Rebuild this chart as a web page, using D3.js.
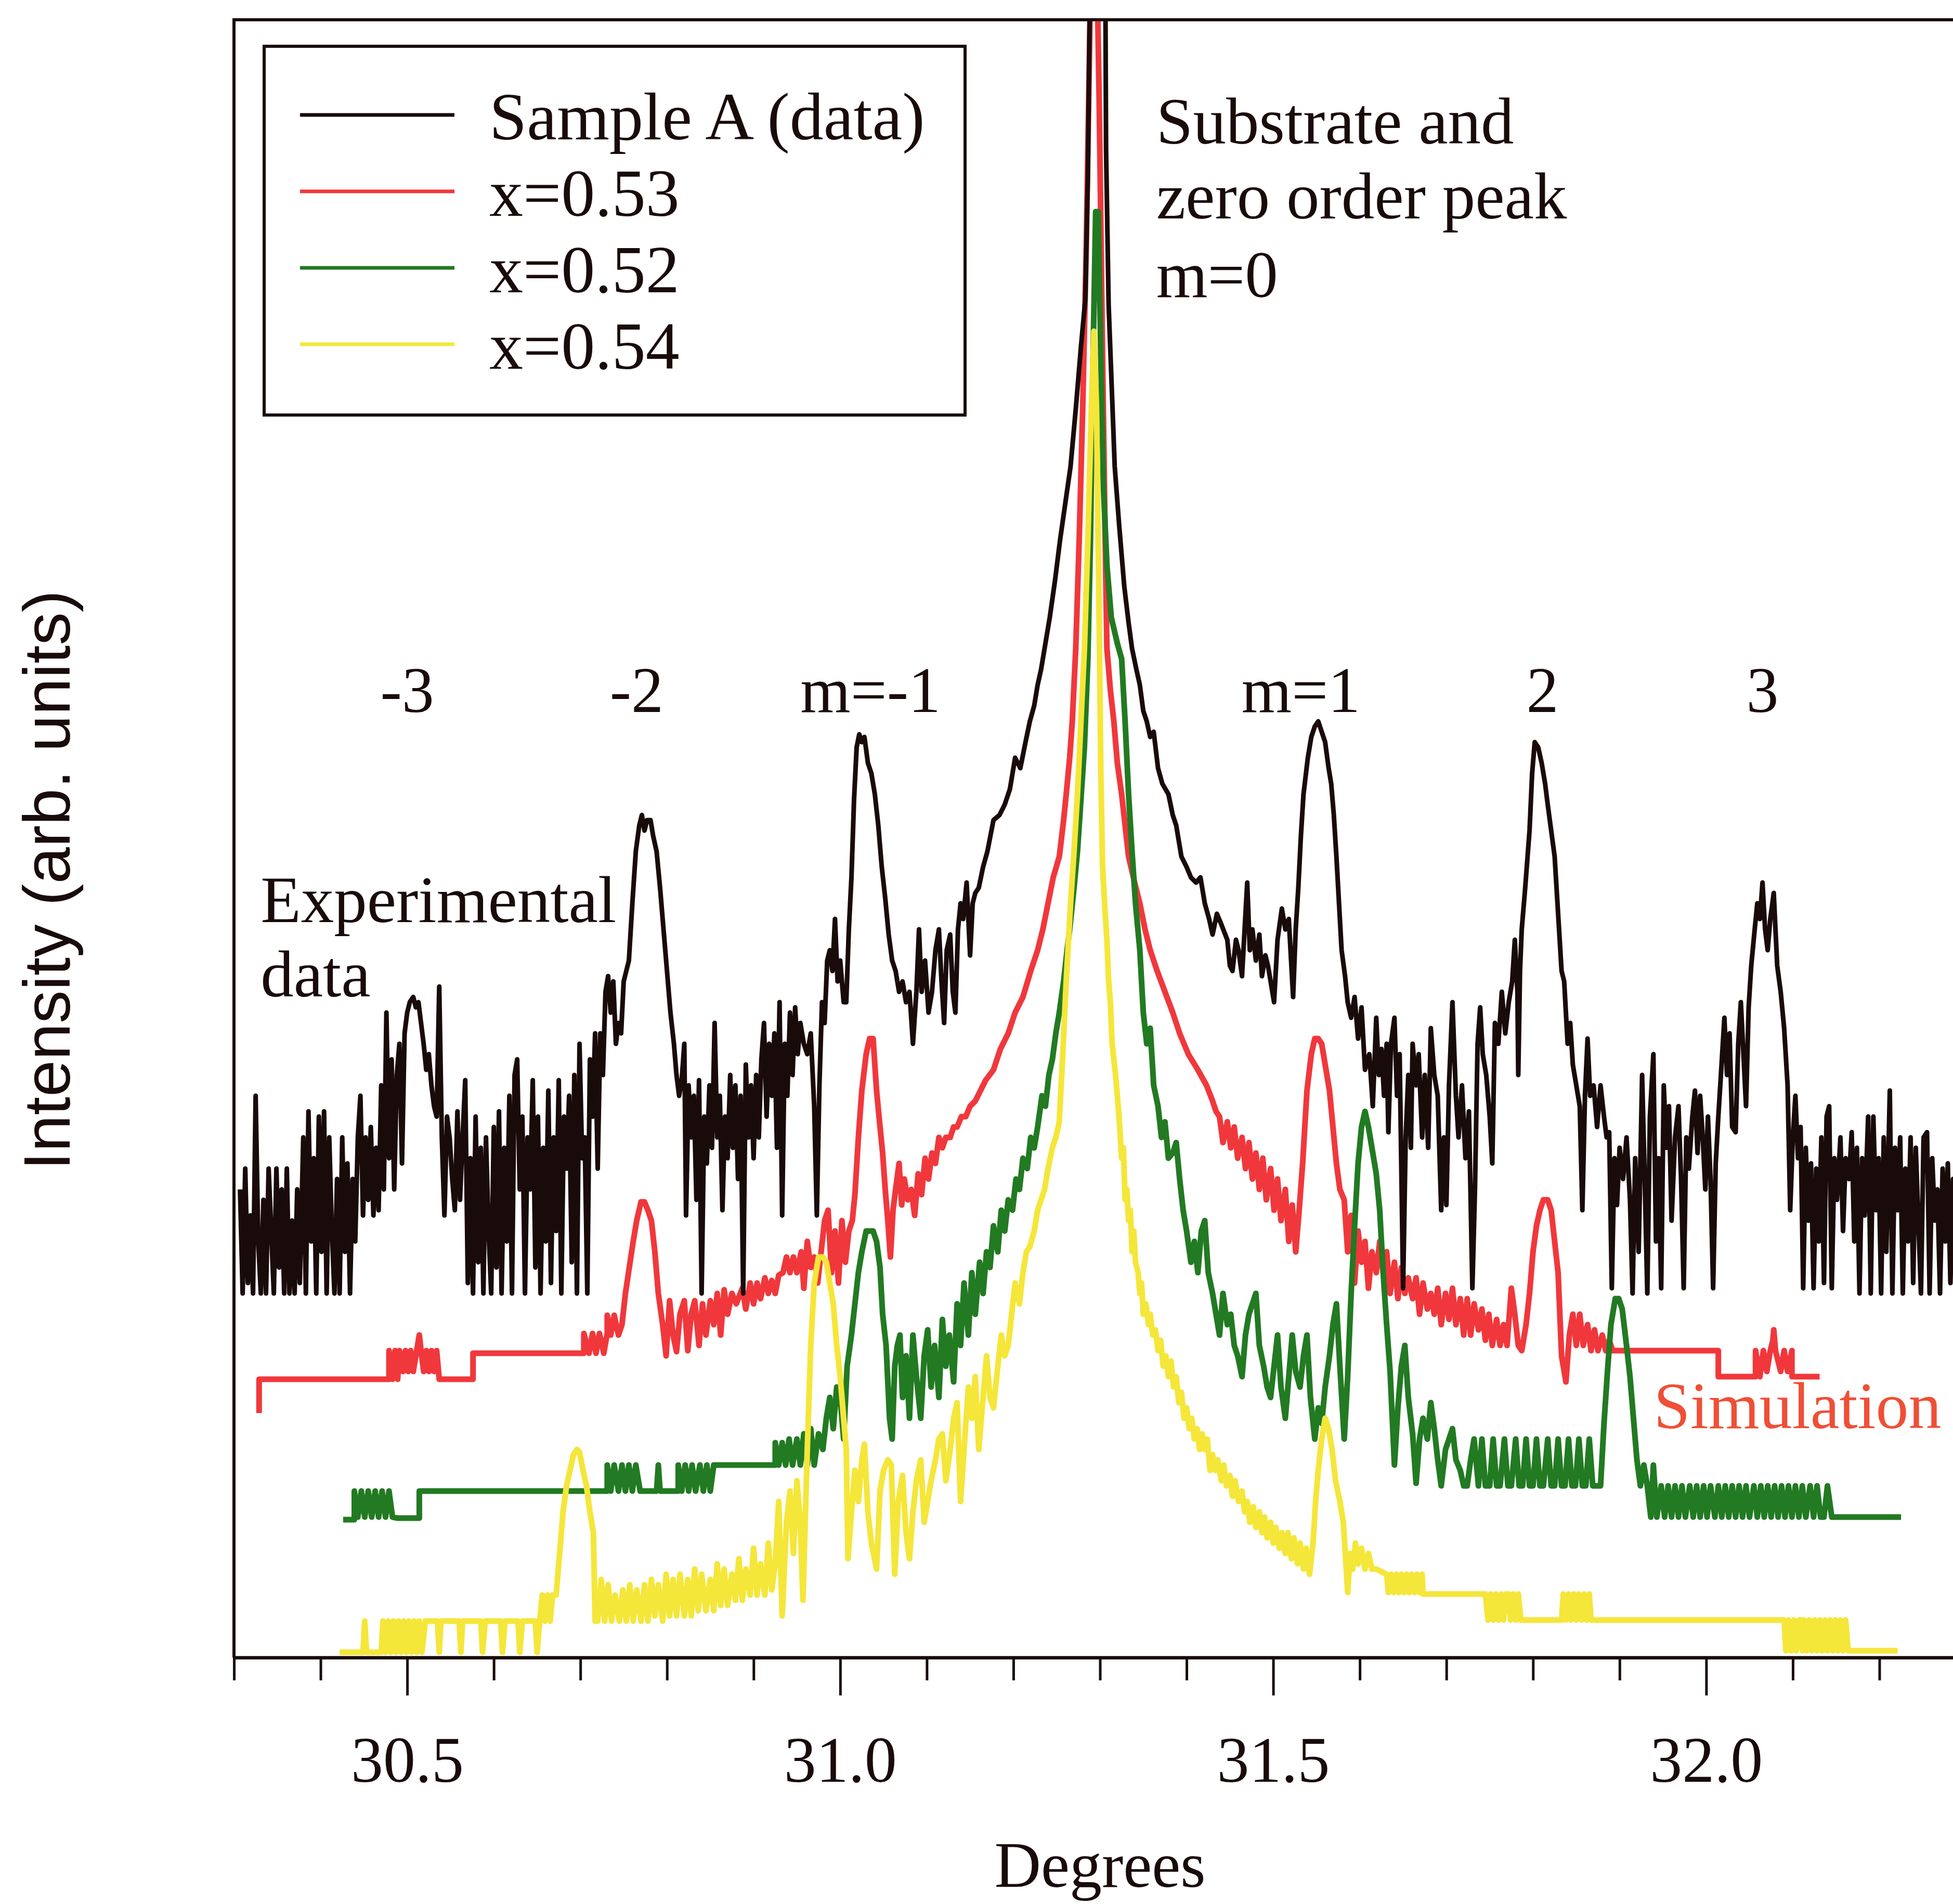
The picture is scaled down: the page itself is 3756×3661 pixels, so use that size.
<!DOCTYPE html>
<html><head><meta charset="utf-8">
<script src="https://cdn.jsdelivr.net/npm/d3@7"></script>
<style>html,body{margin:0;padding:0;background:#fff;} svg{display:block;}</style>
</head><body>
<script>
// ---------------- DATA ----------------
const sampleA = [[30.307,90],[30.310,70],[30.313,94],[30.316,72],[30.319,85],[30.322,70],[30.325,108],[30.328,80],[30.331,70],[30.334,88],[30.337,70],[30.340,94],[30.343,82],[30.346,70],[30.349,94],[30.352,75],[30.355,90],[30.358,70],[30.361,94],[30.364,70],[30.367,84],[30.370,70],[30.373,90],[30.376,72],[30.380,100],[30.383,70],[30.386,105],[30.389,80],[30.392,96],[30.395,70],[30.398,104],[30.401,78],[30.404,105],[30.407,70],[30.410,100],[30.413,82],[30.416,70],[30.419,92],[30.422,70],[30.425,100],[30.428,78],[30.431,95],[30.434,70],[30.437,92],[30.440,80],[30.443,100],[30.446,108],[30.449,85],[30.452,100],[30.455,88],[30.458,102],[30.461,85],[30.464,98],[30.467,86],[30.470,110],[30.473,90],[30.476,124],[30.479,96],[30.482,115],[30.485,90],[30.488,112],[30.491,118],[30.494,95],[30.497,120],[30.500,124],[30.503,126],[30.507,127],[30.510,125],[30.513,126],[30.516,122],[30.519,118],[30.522,113],[30.525,116],[30.528,110],[30.531,106],[30.534,104],[30.537,129],[30.540,100],[30.543,85],[30.546,104],[30.549,100],[30.552,92],[30.555,86],[30.558,105],[30.561,88],[30.564,100],[30.567,111],[30.570,72],[30.573,96],[30.576,70],[30.579,104],[30.582,76],[30.585,98],[30.588,70],[30.591,100],[30.594,82],[30.597,70],[30.600,102],[30.603,75],[30.606,105],[30.609,70],[30.612,98],[30.615,80],[30.618,108],[30.621,70],[30.624,112],[30.627,115],[30.630,90],[30.633,104],[30.636,70],[30.639,100],[30.642,90],[30.645,111],[30.648,75],[30.651,104],[30.654,70],[30.657,98],[30.660,80],[30.663,109],[30.666,72],[30.669,100],[30.672,82],[30.675,111],[30.678,70],[30.681,104],[30.684,94],[30.687,108],[30.690,76],[30.693,112],[30.696,70],[30.699,118],[30.702,96],[30.705,100],[30.708,70],[30.711,115],[30.714,104],[30.717,120],[30.720,94],[30.723,120],[30.726,112],[30.729,128],[30.732,131],[30.735,124],[30.738,130],[30.741,118],[30.744,122],[30.747,120],[30.750,130],[30.753,132],[30.756,134],[30.760,145],[30.764,155],[30.768,160],[30.771,162],[30.774,159],[30.777,161],[30.781,161],[30.784,158],[30.788,155],[30.792,148],[30.796,140],[30.800,132],[30.804,124],[30.808,118],[30.811,112],[30.814,108],[30.817,111],[30.820,118],[30.822,85],[30.825,110],[30.828,100],[30.831,108],[30.834,88],[30.837,111],[30.840,70],[30.843,104],[30.846,95],[30.849,110],[30.852,98],[30.855,122],[30.858,100],[30.861,108],[30.864,86],[30.867,104],[30.870,96],[30.873,112],[30.876,98],[30.879,110],[30.882,92],[30.885,108],[30.888,70],[30.891,114],[30.894,100],[30.897,110],[30.900,96],[30.903,112],[30.906,100],[30.909,115],[30.912,122],[30.915,104],[30.918,118],[30.921,108],[30.924,120],[30.927,98],[30.930,126],[30.933,85],[30.936,118],[30.939,108],[30.942,124],[30.945,112],[30.948,125],[30.951,116],[30.954,122],[30.958,118],[30.962,116],[30.966,120],[30.970,106],[30.973,85],[30.976,110],[30.979,126],[30.982,122],[30.985,134],[30.988,136],[30.991,132],[30.994,142],[30.997,130],[31.000,134],[31.004,126],[31.007,126],[31.010,140],[31.013,150],[31.016,165],[31.019,175],[31.022,177.5],[31.025,176],[31.028,177],[31.032,172],[31.036,170],[31.040,166],[31.044,160],[31.048,152],[31.052,146],[31.056,139],[31.060,134],[31.064,132],[31.068,128],[31.072,130],[31.076,126],[31.080,128],[31.084,118],[31.088,128],[31.091,140],[31.094,128],[31.098,134],[31.102,124],[31.106,128],[31.110,136],[31.114,140],[31.117,130],[31.120,122],[31.123,136],[31.127,139],[31.130,128],[31.133,124],[31.136,140],[31.139,145],[31.142,142],[31.146,149],[31.150,135],[31.153,145],[31.156,147],[31.160,148],[31.165,152],[31.170,155],[31.177,161],[31.184,162],[31.190,164],[31.196,167],[31.202,173],[31.208,171],[31.214,176],[31.219,180],[31.224,183],[31.228,187],[31.232,190],[31.236,194],[31.242,200],[31.248,207],[31.254,215],[31.260,222],[31.266,229],[31.272,240],[31.278,252],[31.283,261],[31.286,285],[31.289,330],[31.298,345],[31.306,330],[31.307,290],[31.310,260],[31.317,229],[31.322,218],[31.328,206],[31.333,199],[31.337,194],[31.342,190],[31.346,187],[31.350,182],[31.354,180],[31.358,177],[31.362,178],[31.367,171],[31.372,168],[31.379,166],[31.384,162],[31.388,160],[31.394,154],[31.400,152],[31.405,150],[31.411,149],[31.416,150],[31.421,145],[31.426,142],[31.430,139],[31.435,143],[31.440,141],[31.447,138],[31.450,133],[31.453,132],[31.457,138],[31.460,136],[31.464,131],[31.467,140],[31.470,149],[31.473,136],[31.476,140],[31.480,134],[31.484,139],[31.487,131],[31.491,135],[31.494,133],[31.497,130],[31.501,126],[31.505,138],[31.510,144],[31.514,140],[31.518,142],[31.523,127],[31.526,140],[31.529,148],[31.532,158],[31.535,166],[31.540,173],[31.544,177],[31.548,179],[31.552,180],[31.556,178],[31.560,176],[31.564,171],[31.567,168],[31.570,162],[31.573,154],[31.576,145],[31.579,136],[31.583,131],[31.586,126],[31.590,123],[31.594,127],[31.598,119],[31.602,125],[31.606,113],[31.611,116],[31.615,106],[31.619,123],[31.622,112],[31.625,117],[31.628,108],[31.631,118],[31.633,101],[31.636,118],[31.640,123],[31.643,108],[31.646,116],[31.650,71],[31.653,100],[31.656,112],[31.659,98],[31.661,118],[31.665,110],[31.668,116],[31.672,100],[31.675,112],[31.679,98],[31.682,121],[31.686,112],[31.690,108],[31.694,86],[31.697,100],[31.700,87],[31.703,110],[31.707,126],[31.711,108],[31.714,100],[31.718,110],[31.722,96],[31.726,105],[31.730,71],[31.733,90],[31.736,118],[31.739,125],[31.742,116],[31.746,112],[31.750,104],[31.753,95],[31.756,122],[31.760,118],[31.764,128],[31.768,120],[31.772,126],[31.776,130],[31.779,138],[31.782,128],[31.783,112],[31.785,132],[31.787,140],[31.791,148],[31.796,159],[31.799,170],[31.802,176],[31.806,175],[31.810,172],[31.814,168],[31.817,164],[31.821,159],[31.825,154],[31.829,143],[31.833,132],[31.836,130],[31.840,118],[31.843,122],[31.846,114],[31.850,110],[31.854,106],[31.857,86],[31.860,108],[31.863,119],[31.866,108],[31.870,110],[31.874,102],[31.878,110],[31.882,104],[31.885,100],[31.888,101],[31.891,71],[31.894,96],[31.897,87],[31.900,98],[31.904,92],[31.908,100],[31.912,88],[31.915,70],[31.918,96],[31.922,78],[31.926,112],[31.929,92],[31.932,70],[31.935,104],[31.939,116],[31.942,80],[31.945,96],[31.948,71],[31.951,110],[31.954,98],[31.957,106],[31.960,84],[31.964,100],[31.968,106],[31.971,92],[31.974,71],[31.977,100],[31.980,94],[31.984,104],[31.987,109],[31.990,97],[31.993,108],[31.996,100],[31.999,90],[32.002,104],[32.005,92],[32.008,71],[32.011,95],[32.014,104],[32.017,112],[32.021,123],[32.024,112],[32.027,120],[32.030,102],[32.034,101],[32.037,118],[32.040,126],[32.043,116],[32.046,106],[32.049,125],[32.052,133],[32.056,140],[32.059,145],[32.062,142],[32.065,149],[32.068,140],[32.071,136],[32.074,142],[32.078,147],[32.080,140],[32.082,133],[32.086,128],[32.090,121],[32.094,110],[32.097,86],[32.100,100],[32.103,108],[32.106,96],[32.109,102],[32.112,71],[32.115,98],[32.118,84],[32.121,95],[32.124,71],[32.127,94],[32.130,80],[32.133,100],[32.136,72],[32.139,104],[32.142,106],[32.145,71],[32.148,96],[32.151,88],[32.155,100],[32.158,82],[32.161,96],[32.165,92],[32.168,101],[32.171,80],[32.174,98],[32.177,70],[32.180,96],[32.183,85],[32.187,104],[32.190,70],[32.193,104],[32.196,86],[32.199,96],[32.202,70],[32.205,100],[32.208,78],[32.212,109],[32.215,70],[32.218,98],[32.221,86],[32.224,100],[32.227,70],[32.230,94],[32.233,80],[32.236,100],[32.239,72],[32.242,98],[32.245,84],[32.248,70],[32.251,100],[32.255,101],[32.258,70],[32.261,96],[32.264,84],[32.267,90],[32.270,70],[32.273,94],[32.276,80],[32.279,95],[32.282,72],[32.285,92],[32.290,70],[32.295,90]];

const simX053 = [[30.329,47],[30.329,53.5],[30.479,53.5],[30.479,59],[30.483,53.5],[30.486,59],[30.489,53.5],[30.491,59],[30.495,55],[30.498,59],[30.501,55],[30.504,59],[30.507,55],[30.511,59],[30.514,62],[30.516,59],[30.519,55],[30.522,59],[30.525,55],[30.528,59],[30.531,55],[30.534,59],[30.537,53.5],[30.576,53.5],[30.576,58.5],[30.704,58.5],[30.704,62.3],[30.710,58.5],[30.714,62.3],[30.718,58.5],[30.722,62.3],[30.727,58.5],[30.731,62.3],[30.731,65.8],[30.735,62],[30.739,65.8],[30.744,62],[30.748,64],[30.752,70],[30.757,75.6],[30.761,80],[30.765,84],[30.770,87.6],[30.774,87.6],[30.778,86],[30.782,84],[30.786,78],[30.790,70],[30.795,64],[30.799,58],[30.803,68.6],[30.807,62],[30.811,58.8],[30.815,66],[30.820,68.6],[30.824,59],[30.828,66],[30.832,68.6],[30.837,60],[30.841,68],[30.845,62],[30.850,68.6],[30.854,64],[30.858,70],[30.862,62],[30.866,70.7],[30.870,66],[30.875,70],[30.880,68],[30.887,71],[30.891,67],[30.896,72],[30.900,68],[30.904,72],[30.908,69],[30.913,73],[30.917,70],[30.921,72.5],[30.925,70],[30.929,73.5],[30.934,74],[30.938,77],[30.942,74],[30.946,77],[30.950,74],[30.955,78],[30.958,71],[30.962,80],[30.966,75],[30.970,77],[30.974,72],[30.978,78],[30.982,84],[30.986,86],[30.990,74],[30.994,82],[30.998,72],[31.002,84],[31.006,76],[31.010,82],[31.014,84],[31.017,89],[31.021,100],[31.025,109],[31.030,116],[31.034,119],[31.038,119],[31.042,109],[31.046,102],[31.049,97],[31.052,90],[31.055,84],[31.058,77],[31.061,86],[31.064,90],[31.068,95],[31.071,87],[31.074,92],[31.078,88],[31.082,90],[31.086,85],[31.090,93],[31.094,89],[31.098,96],[31.102,92],[31.106,97],[31.110,95],[31.114,100],[31.118,98],[31.122,100],[31.127,100],[31.131,102],[31.135,102],[31.140,104],[31.145,104],[31.150,106],[31.156,107],[31.162,109],[31.168,111],[31.177,113],[31.185,117],[31.194,120],[31.202,124],[31.211,127],[31.220,132],[31.228,136],[31.234,140],[31.240,145],[31.246,150],[31.253,154],[31.258,161],[31.261,166],[31.265,173],[31.268,180],[31.272,194],[31.276,215],[31.280,240],[31.284,270],[31.287,300],[31.290,330],[31.293,350],[31.296,330],[31.299,300],[31.303,250],[31.306,215],[31.308,194],[31.312,186],[31.316,180],[31.320,172],[31.325,166],[31.329,160],[31.333,154],[31.340,149],[31.346,145],[31.352,140],[31.358,136],[31.366,132],[31.375,128],[31.384,124],[31.392,120],[31.402,116],[31.413,113],[31.423,110],[31.430,107],[31.434,105],[31.438,104],[31.442,99],[31.447,103],[31.451,98],[31.455,102],[31.459,96],[31.464,100],[31.468,94],[31.472,99],[31.476,92],[31.480,97],[31.484,90],[31.488,96],[31.492,88],[31.497,94],[31.501,86],[31.505,92],[31.509,84],[31.514,90],[31.518,80],[31.522,87],[31.526,78],[31.530,86],[31.534,95],[31.539,109],[31.544,116],[31.548,119],[31.552,119],[31.556,118],[31.560,114],[31.565,109],[31.569,102],[31.573,95],[31.577,90],[31.582,88],[31.586,78],[31.590,85],[31.594,72],[31.598,82],[31.602,76],[31.606,80],[31.610,71],[31.614,78],[31.619,74],[31.623,80],[31.627,74],[31.631,78],[31.635,70],[31.640,76],[31.644,69],[31.648,75],[31.652,70],[31.656,73],[31.661,69],[31.665,73],[31.669,66],[31.673,72],[31.678,67],[31.682,70],[31.686,66],[31.690,71],[31.694,64],[31.699,70],[31.703,65],[31.707,71],[31.711,64],[31.716,69],[31.720,62],[31.724,69],[31.728,62],[31.732,68],[31.737,63],[31.741,67],[31.745,61],[31.749,66],[31.753,60],[31.758,65],[31.762,60],[31.766,64],[31.770,60],[31.775,71],[31.779,66],[31.783,60],[31.787,59],[31.792,64],[31.796,70],[31.800,78],[31.804,83],[31.808,86],[31.812,88],[31.817,88],[31.821,86],[31.825,80],[31.829,74],[31.833,58],[31.838,53],[31.842,62],[31.846,66],[31.850,60],[31.854,66],[31.858,60],[31.863,64],[31.867,59],[31.871,63],[31.875,59],[31.880,62],[31.884,59],[31.888,61],[31.892,59],[32.014,59],[32.014,54],[32.057,54],[32.057,59],[32.062,54],[32.066,59],[32.070,55],[32.074,59],[32.077,61],[32.078,63],[32.080,59],[32.086,55],[32.090,59],[32.094,55],[32.099,59],[32.099,54],[32.131,54]];

const simX052 = [[30.426,26.5],[30.439,26.5],[30.439,32],[30.443,27],[30.447,32],[30.451,27],[30.455,32],[30.459,27],[30.463,32],[30.467,27],[30.471,32],[30.475,27],[30.479,32],[30.483,27],[30.489,26.8],[30.514,26.8],[30.514,32],[30.731,32],[30.731,37],[30.735,32],[30.739,37],[30.744,32],[30.748,37],[30.752,32],[30.756,37],[30.760,32],[30.764,37],[30.769,32],[30.788,32],[30.790,37],[30.792,32],[30.813,32],[30.813,37],[30.817,32],[30.821,37],[30.825,32],[30.829,37],[30.833,32],[30.838,37],[30.842,32],[30.846,37],[30.850,32],[30.854,37],[30.858,37],[30.925,37],[30.925,41.3],[30.929,37],[30.933,41.3],[30.937,37],[30.941,42],[30.945,37],[30.950,42],[30.954,37],[30.958,43],[30.962,37],[30.966,44],[30.970,37],[30.975,43],[30.980,40],[30.984,46],[30.988,50],[30.992,44],[30.996,52],[31.000,50],[31.004,42],[31.008,56],[31.013,62],[31.017,68],[31.021,74],[31.025,78],[31.030,82],[31.034,82],[31.038,82],[31.042,80],[31.046,75],[31.049,66],[31.053,60],[31.057,46],[31.060,42],[31.063,56],[31.066,60],[31.069,62],[31.072,50],[31.076,58],[31.080,46],[31.084,62],[31.088,54],[31.093,46],[31.097,58],[31.101,63],[31.105,52],[31.109,60],[31.114,50],[31.118,65],[31.122,56],[31.126,62],[31.131,53],[31.135,68],[31.139,60],[31.143,72],[31.148,62],[31.152,74],[31.156,66],[31.161,76],[31.165,70],[31.169,78],[31.173,75],[31.177,83],[31.182,78],[31.186,86],[31.190,82],[31.194,88],[31.199,86],[31.203,92],[31.207,90],[31.211,96],[31.216,94],[31.220,100],[31.224,98],[31.228,102],[31.233,108],[31.237,106],[31.241,112],[31.245,115],[31.249,120],[31.253,124],[31.258,130],[31.262,136],[31.265,140],[31.270,148],[31.274,155],[31.278,165],[31.282,175],[31.286,192],[31.289,215],[31.292,250],[31.295,278],[31.298,278],[31.301,250],[31.304,225],[31.308,210],[31.313,200],[31.320,195],[31.325,192],[31.329,180],[31.333,166],[31.337,155],[31.341,145],[31.346,136],[31.350,124],[31.354,118],[31.358,121],[31.362,110],[31.367,106],[31.371,100],[31.375,103],[31.379,96],[31.384,97],[31.388,99],[31.392,92],[31.396,86],[31.400,82],[31.405,76],[31.409,80],[31.413,74],[31.417,82],[31.421,84],[31.425,74],[31.430,70],[31.434,66],[31.438,62],[31.442,70],[31.447,64],[31.451,66],[31.455,60],[31.459,58],[31.464,54],[31.468,62],[31.472,66],[31.476,68],[31.480,70],[31.484,60],[31.489,56],[31.493,52],[31.497,50],[31.501,56],[31.505,62],[31.509,52],[31.514,46],[31.518,54],[31.522,62],[31.526,55],[31.531,52],[31.535,58],[31.539,62],[31.543,50],[31.548,42],[31.552,48],[31.556,45],[31.560,52],[31.565,58],[31.569,64],[31.573,68],[31.577,56],[31.582,42],[31.586,54],[31.590,70],[31.594,83],[31.598,95],[31.602,102],[31.606,105],[31.610,102],[31.615,97],[31.619,93],[31.623,86],[31.627,74],[31.631,64],[31.635,55],[31.640,37],[31.644,48],[31.648,56],[31.652,60],[31.656,50],[31.661,43],[31.665,33.5],[31.669,42],[31.673,46],[31.678,42],[31.682,49],[31.686,44],[31.690,38],[31.694,33],[31.699,40],[31.703,42],[31.707,44],[31.711,38],[31.716,36],[31.720,33],[31.724,33],[31.728,38],[31.732,42],[31.737,33],[31.741,42],[31.745,33],[31.750,33],[31.754,42],[31.758,33],[31.762,33],[31.767,42],[31.771,33],[31.775,33],[31.780,42],[31.784,33],[31.788,33],[31.792,42],[31.796,33],[31.800,33],[31.804,42],[31.808,33],[31.812,33],[31.817,42],[31.821,33],[31.825,33],[31.829,42],[31.833,33],[31.837,33],[31.841,42],[31.845,33],[31.849,33],[31.853,42],[31.857,33],[31.861,33],[31.865,42],[31.869,33],[31.878,33],[31.882,45],[31.886,55],[31.890,64],[31.895,69],[31.899,69],[31.903,67],[31.908,60],[31.912,54],[31.916,46],[31.920,38],[31.924,33],[31.928,37],[31.932,33],[31.936,27],[31.939,37],[31.943,27],[31.948,33],[31.952,27],[31.956,33],[31.960,27],[31.964,33],[31.968,27],[31.972,33],[31.976,27],[31.981,33],[31.985,27],[31.989,33],[31.993,27],[31.997,33],[32.001,27],[32.005,33],[32.010,27],[32.014,33],[32.018,27],[32.022,33],[32.026,27],[32.030,33],[32.034,27],[32.038,33],[32.042,27],[32.046,33],[32.050,27],[32.055,33],[32.059,27],[32.063,33],[32.067,27],[32.071,33],[32.075,27],[32.079,33],[32.083,27],[32.087,33],[32.091,27],[32.095,33],[32.099,27],[32.103,33],[32.107,27],[32.111,33],[32.115,27],[32.120,33],[32.124,27],[32.128,33],[32.132,27],[32.136,27],[32.140,33],[32.145,27],[32.225,27]];

const simX054 = [[30.422,1],[30.449,1],[30.451,7],[30.453,1],[30.470,1],[30.472,7],[30.475,1],[30.478,7],[30.481,1],[30.484,7],[30.487,1],[30.490,7],[30.493,1],[30.496,7],[30.499,1],[30.502,7],[30.505,1],[30.508,7],[30.511,1],[30.514,7],[30.517,1],[30.521,7],[30.535,7],[30.537,1],[30.539,7],[30.560,7],[30.562,1],[30.564,7],[30.585,7],[30.587,1],[30.590,7],[30.608,7],[30.610,1],[30.613,7],[30.628,7],[30.630,1],[30.633,7],[30.648,7],[30.650,1],[30.653,7],[30.656,12],[30.659,7],[30.662,12],[30.665,7],[30.668,12],[30.672,12],[30.676,20],[30.680,28],[30.684,33],[30.688,36],[30.692,39],[30.696,40],[30.699,39.5],[30.703,36],[30.707,33],[30.711,28],[30.715,24],[30.717,7],[30.720,7],[30.724,15],[30.728,7],[30.732,14],[30.736,7],[30.740,12],[30.745,7],[30.749,13],[30.753,7],[30.757,14],[30.761,7],[30.765,13],[30.770,7],[30.774,14],[30.778,7],[30.782,15],[30.786,8],[30.790,14],[30.795,7],[30.799,16],[30.803,8],[30.807,15],[30.811,8],[30.815,16],[30.820,8],[30.824,15],[30.828,8],[30.832,17],[30.836,9],[30.840,16],[30.845,9],[30.850,15],[30.854,9],[30.858,18],[30.862,10],[30.866,17],[30.870,10],[30.875,16],[30.879,11],[30.883,19],[30.887,11],[30.891,17],[30.896,12],[30.900,21],[30.904,12],[30.908,18],[30.913,12],[30.917,22],[30.921,13],[30.925,18],[30.929,30],[30.933,8],[30.938,26],[30.942,32],[30.946,20],[30.950,34],[30.954,26],[30.957,11],[30.962,40],[30.966,60],[30.970,72],[30.975,77],[30.980,77],[30.984,76],[30.988,72],[30.992,68],[30.996,60],[31.000,54],[31.004,46],[31.007,40],[31.009,19],[31.013,28],[31.017,36],[31.021,30],[31.025,38],[31.028,41],[31.032,28],[31.036,22],[31.042,17],[31.046,32],[31.050,36],[31.055,38],[31.059,37],[31.063,16],[31.067,30],[31.072,35],[31.076,24],[31.080,19],[31.084,28],[31.088,34],[31.093,38],[31.097,26],[31.101,30],[31.105,34],[31.110,38],[31.114,42],[31.118,43],[31.122,34],[31.127,40],[31.131,46],[31.135,49],[31.139,30],[31.143,40],[31.148,52],[31.152,46],[31.156,54],[31.160,40],[31.165,50],[31.169,58],[31.173,50],[31.177,48],[31.182,56],[31.186,62],[31.190,58],[31.194,60],[31.198,66],[31.202,72],[31.207,68],[31.211,74],[31.215,78],[31.219,79],[31.224,82],[31.228,86],[31.232,88],[31.236,90],[31.240,94],[31.245,98],[31.249,100],[31.253,103],[31.257,116],[31.261,130],[31.266,145],[31.270,155],[31.274,166],[31.278,180],[31.282,194],[31.286,215],[31.290,240],[31.293,255],[31.296,240],[31.299,200],[31.301,170],[31.303,152],[31.306,143],[31.308,138],[31.310,130],[31.312,126],[31.314,118],[31.316,115],[31.318,112],[31.320,108],[31.322,104],[31.325,96],[31.327,98],[31.329,88],[31.331,90],[31.333,84],[31.335,86],[31.337,78],[31.339,82],[31.341,76],[31.344,74],[31.346,70],[31.348,72],[31.350,66],[31.353,68],[31.356,64],[31.358,66],[31.361,62],[31.364,63],[31.367,59],[31.370,61],[31.373,56],[31.376,58],[31.379,54],[31.382,57],[31.385,52],[31.388,54],[31.391,49],[31.394,51],[31.397,46],[31.400,48],[31.403,44],[31.406,46],[31.409,42],[31.412,44],[31.415,40],[31.418,43],[31.421,40],[31.424,42],[31.427,36],[31.430,39],[31.433,36],[31.436,38],[31.440,34],[31.443,37],[31.446,33],[31.450,35],[31.453,31],[31.456,34],[31.460,30],[31.464,32],[31.467,28],[31.470,30],[31.473,26],[31.477,29],[31.480,25],[31.484,28],[31.487,24],[31.490,27],[31.493,23],[31.497,26],[31.500,22],[31.503,25],[31.507,21],[31.510,24],[31.514,20],[31.517,24],[31.521,19],[31.524,23],[31.528,18],[31.531,22],[31.535,17],[31.538,21],[31.542,16],[31.546,22],[31.549,30],[31.552,36],[31.556,42],[31.560,46],[31.564,44],[31.568,40],[31.572,34],[31.577,30],[31.581,26],[31.584,18],[31.586,12.5],[31.589,20],[31.592,17],[31.595,22],[31.598,18],[31.602,21],[31.606,17],[31.610,20],[31.614,17],[31.619,17],[31.631,16],[31.633,12.5],[31.636,16],[31.639,12.5],[31.642,16],[31.645,12.5],[31.648,16],[31.651,12.5],[31.654,16],[31.657,12.5],[31.660,16],[31.663,12.5],[31.666,16],[31.669,12.5],[31.672,16],[31.673,12.2],[31.745,12.2],[31.748,7.2],[31.751,12.2],[31.754,7.2],[31.757,12.2],[31.760,7.2],[31.763,12.2],[31.766,7.2],[31.769,12.2],[31.772,12.2],[31.774,7.2],[31.777,12.2],[31.780,7.2],[31.783,12.2],[31.786,7.2],[31.833,7.2],[31.835,12.2],[31.838,7.2],[31.841,12.2],[31.844,7.2],[31.847,12.2],[31.850,7.2],[31.853,12.2],[31.856,7.2],[31.859,12.2],[31.862,7.2],[31.865,12.2],[31.867,7.2],[32.090,7.2],[32.092,1.3],[32.095,7.2],[32.098,1.3],[32.101,7.2],[32.104,1.3],[32.107,7.2],[32.110,7.2],[32.111,1.3],[32.113,7.2],[32.116,1.3],[32.119,7.2],[32.122,1.3],[32.125,7.2],[32.128,1.3],[32.131,7.2],[32.134,1.3],[32.137,7.2],[32.140,1.3],[32.143,7.2],[32.146,1.3],[32.149,7.2],[32.152,1.3],[32.155,7.2],[32.158,1.3],[32.161,7.2],[32.164,1.3],[32.166,1.3],[32.221,1.3]];

const legendLabels = ["Sample A (data)", "x=0.53", "x=0.52", "x=0.54"];
const majorTicks = [30.5, 31.0, 31.5, 32.0];
const tickLabels = ["30.5", "31.0", "31.5", "32.0"];
const minorTicks = [30.3, 30.4, 30.6, 30.7, 30.8, 30.9, 31.1, 31.2, 31.3, 31.4, 31.6, 31.7, 31.8, 31.9, 32.1, 32.2];
const orderLabels = ["-3", "-2", "m=-1", "m=1", "2", "3"];
const orderPositions = [30.500, 30.765, 31.035, 31.532, 31.811, 32.065];
const orderLevel = 181.8;
const zeroNote = ["Substrate and", "zero order peak", "m=0"];
const zeroNotePos = [31.365, [291.1, 276.7, 261.6]];
const dataNote = ["Experimental", "data"];
const dataNotePos = [30.3307, [141.4, 127.1]];
const simNote = "Simulation";
const simNotePos = [31.9395, 44.1];

// ---------------- STYLE / LAYOUT ----------------
const W = 3756, H = 3661;
const P = {left: 450, right: 3781, top: 38, bottom: 3187};
const INK = "#1a0b0b";
const colors = ["#1a0b0b", "#f0383c", "#227a22", "#f5e63a"];
const widths = [9, 11, 11, 11];
const SERIF = "'Liberation Serif','Times New Roman',serif";
const SANS = "'Liberation Sans',Arial,sans-serif";
const FS = 124;

const x = d3.scaleLinear().domain([30.3, 32.3]).range([P.left, P.right]);
const y = d3.scaleLinear().domain([0, 314.9]).range([P.bottom, P.top]);

const svg = d3.select("body").append("svg").attr("width", W).attr("height", H);
svg.append("rect").attr("width", W).attr("height", H).attr("fill", "#ffffff");

svg.append("defs").append("clipPath").attr("id", "plotclip")
  .append("rect").attr("x", P.left).attr("y", P.top)
  .attr("width", P.right - P.left).attr("height", P.bottom - P.top);

const line = d3.line().x(d => x(d[0])).y(d => y(d[1]));
const plot = svg.append("g").attr("clip-path", "url(#plotclip)");
const drawOrder = [[simX053, 1], [simX052, 2], [simX054, 3], [sampleA, 0]];
drawOrder.forEach(([data, k]) => {
  plot.append("path").datum(data).attr("d", line)
    .attr("fill", "none").attr("stroke", colors[k]).attr("stroke-width", widths[k])
    .attr("stroke-linejoin", "round").attr("stroke-linecap", "butt");
});

// frame (top & left & right)
svg.append("path")
  .attr("d", `M${P.left},${P.bottom} L${P.left},${P.top} L${P.right},${P.top} L${P.right},${P.bottom}`)
  .attr("fill", "none").attr("stroke", INK).attr("stroke-width", 6);

// axes
const gMinor = svg.append("g").attr("transform", `translate(0,${P.bottom})`)
  .call(d3.axisBottom(x).tickValues(minorTicks).tickSize(44).tickSizeOuter(0).tickFormat(""));
const gMajor = svg.append("g").attr("transform", `translate(0,${P.bottom})`)
  .call(d3.axisBottom(x).tickValues(majorTicks).tickSize(73).tickSizeOuter(0)
    .tickFormat((d, i) => tickLabels[i]));
[gMinor, gMajor].forEach(g => {
  g.select(".domain").attr("stroke", INK).attr("stroke-width", 6);
  g.selectAll(".tick line").attr("stroke", INK).attr("stroke-width", 5);
});
gMajor.selectAll(".tick text").attr("y", 239).attr("dy", 0)
  .attr("font-family", SERIF).attr("font-size", FS).attr("fill", INK);

// axis titles
svg.append("text").attr("x", (P.left + P.right) / 2).attr("y", 3628)
  .attr("text-anchor", "middle").attr("font-family", SERIF).attr("font-size", FS)
  .attr("fill", INK).text("Degrees");
svg.append("text").attr("transform", `translate(134,${(P.top + P.bottom) / 2 + 80}) rotate(-90)`)
  .attr("text-anchor", "middle").attr("font-family", SANS).attr("font-size", 127)
  .attr("fill", INK).text("Intensity (arb. units)");

// order labels
orderLabels.forEach((t, i) => {
  svg.append("text").attr("x", x(orderPositions[i])).attr("y", y(orderLevel))
    .attr("text-anchor", "middle").attr("font-family", SERIF).attr("font-size", FS)
    .attr("fill", INK).text(t);
});
zeroNote.forEach((t, i) => {
  svg.append("text").attr("x", x(zeroNotePos[0])).attr("y", y(zeroNotePos[1][i]))
    .attr("font-family", SERIF).attr("font-size", FS + 3).attr("fill", INK).text(t);
});
dataNote.forEach((t, i) => {
  svg.append("text").attr("x", x(dataNotePos[0])).attr("y", y(dataNotePos[1][i]))
    .attr("font-family", SERIF).attr("font-size", FS + 3).attr("fill", INK).text(t);
});
svg.append("text").attr("x", x(simNotePos[0])).attr("y", y(simNotePos[1]))
  .attr("font-family", SERIF).attr("font-size", FS + 2).attr("fill", "#ef4f36").text(simNote);

// legend
const lg = svg.append("g");
lg.append("rect").attr("x", 508).attr("y", 89).attr("width", 1348).attr("height", 709)
  .attr("fill", "#ffffff").attr("stroke", INK).attr("stroke-width", 6);
legendLabels.forEach((t, i) => {
  const base = 268 + i * 147;
  lg.append("line").attr("x1", 577).attr("x2", 874).attr("y1", base - 47).attr("y2", base - 47)
    .attr("stroke", colors[i]).attr("stroke-width", 7);
  lg.append("text").attr("x", 941).attr("y", base).attr("font-family", SERIF)
    .attr("font-size", FS + 6).attr("fill", INK).text(t);
});
</script>
</body></html>
